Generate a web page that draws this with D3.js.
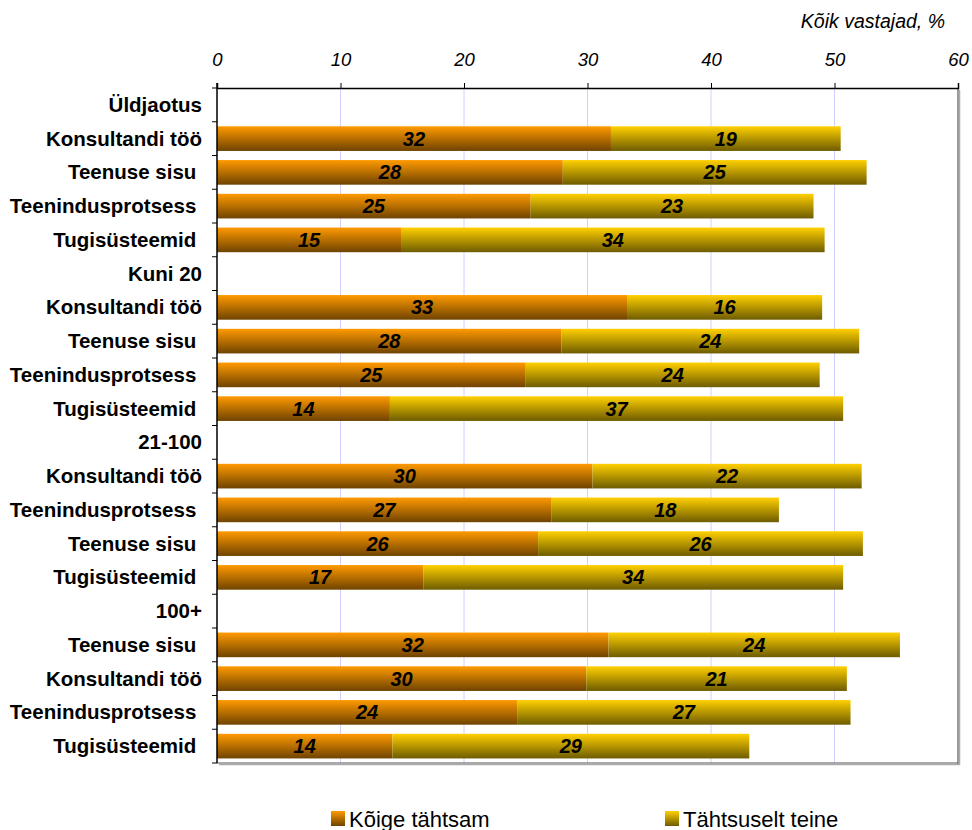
<!DOCTYPE html>
<html>
<head>
<meta charset="utf-8">
<script src="https://cdn.jsdelivr.net/npm/d3@7"></script>
<style>
  html, body { margin: 0; padding: 0; background: #fff; }
  svg text { font-family: "Liberation Sans", Arial, Helvetica, sans-serif; white-space: pre; }
</style>
</head>
<body>
<svg id="chart" width="972" height="830"></svg>
<script>
// Row labels (group headers and items), top to bottom
const categories = [
  "Üldjaotus", "Konsultandi töö", "Teenuse sisu ", "Teenindusprotsess ", "Tugisüsteemid ",
  "Kuni 20", "Konsultandi töö", "Teenuse sisu ", "Teenindusprotsess ", "Tugisüsteemid ",
  "21-100", "Konsultandi töö", "Teenindusprotsess ", "Teenuse sisu ", "Tugisüsteemid ",
  "100+", "Teenuse sisu ", "Konsultandi töö", "Teenindusprotsess ", "Tugisüsteemid "
];
// Share of respondents, %
const mostImportant = [
  null, 31.9, 28.0, 25.4, 14.9,
  null, 33.2, 27.9, 25.0, 14.0,
  null, 30.4, 27.1, 26.0, 16.7,
  null, 31.7, 29.9, 24.3, 14.2
];
const secondImportant = [
  null, 18.6, 24.6, 22.9, 34.3,
  null, 15.8, 24.1, 23.8, 36.7,
  null, 21.8, 18.4, 26.3, 34.0,
  null, 23.6, 21.1, 27.0, 28.9
];
const seriesNames = ["Kõige tähtsam", "Tähtsuselt teine"];
const xTicks = [0, 10, 20, 30, 40, 50, 60];
const axisTitle = "Kõik vastajad, %";

const svg = d3.select("#chart");
const plotLeft = 217, plotRight = 958, plotTop = 88, plotBottom = 763;

const x = d3.scaleLinear().domain([0, 60]).range([plotLeft, plotRight]);
const y = d3.scaleBand().domain(d3.range(categories.length)).range([plotTop, plotBottom]).paddingInner(0.27).paddingOuter(0.135);
const rowStep = (plotBottom - plotTop) / categories.length;

// Gradients for the two series
const defs = svg.append("defs");
function grad(id, c0, c1) {
  const g = defs.append("linearGradient").attr("id", id).attr("x1", 0).attr("y1", 0).attr("x2", 0).attr("y2", 1);
  g.append("stop").attr("offset", "0%").attr("stop-color", c0);
  g.append("stop").attr("offset", "100%").attr("stop-color", c1);
}
grad("gOrange", "#ff9a00", "#6f4300");
grad("gYellow", "#ffd000", "#6e5c00");
const fills = ["url(#gOrange)", "url(#gYellow)"];

// Vertical gridlines
svg.append("g").selectAll("line").data(xTicks.filter(t => t > 0 && t < 60)).join("line")
  .attr("x1", d => x(d)).attr("x2", d => x(d))
  .attr("y1", plotTop).attr("y2", plotBottom)
  .attr("stroke", "#d0d0ff").attr("stroke-width", 1);

// Stacked bars
const rows = categories.map((c, i) => ({ i, a: mostImportant[i], b: secondImportant[i] }))
  .filter(d => d.a != null);

const segs = [];
rows.forEach(r => {
  segs.push({ i: r.i, x0: 0, x1: r.a, v: r.a, s: 0 });
  segs.push({ i: r.i, x0: r.a, x1: r.a + r.b, v: r.b, s: 1 });
});

svg.append("g").selectAll("rect").data(segs).join("rect")
  .attr("x", d => x(d.x0))
  .attr("y", d => y(d.i))
  .attr("width", d => x(d.x1) - x(d.x0))
  .attr("height", y.bandwidth())
  .attr("fill", d => fills[d.s]);

svg.append("g").selectAll("text").data(segs).join("text")
  .attr("x", d => (x(d.x0) + x(d.x1)) / 2)
  .attr("y", d => y(d.i) + y.bandwidth() / 2 + 7)
  .attr("text-anchor", "middle")
  .attr("font-size", 20).attr("font-weight", "bold").attr("font-style", "italic")
  .attr("fill", "#000")
  .text(d => Math.round(d.v));

// Plot frame: right and bottom edges
svg.append("line").attr("x1", plotRight).attr("x2", plotRight).attr("y1", plotTop).attr("y2", plotBottom + 1)
  .attr("stroke", "#555").attr("stroke-width", 1.2);
svg.append("line").attr("x1", plotRight + 1.5).attr("x2", plotRight + 1.5).attr("y1", plotTop + 2).attr("y2", plotBottom + 2)
  .attr("stroke", "#aaa").attr("stroke-width", 1.5);
svg.append("line").attr("x1", plotLeft).attr("x2", plotRight).attr("y1", plotBottom).attr("y2", plotBottom)
  .attr("stroke", "#555").attr("stroke-width", 1.2);
svg.append("line").attr("x1", plotLeft + 2).attr("x2", plotRight + 2).attr("y1", plotBottom + 1.5).attr("y2", plotBottom + 1.5)
  .attr("stroke", "#aaa").attr("stroke-width", 1.5);

// Top axis
const xAxis = d3.axisTop(x).tickValues(xTicks).tickSize(5).tickPadding(17).tickFormat(d3.format("d"));
const gx = svg.append("g").attr("transform", `translate(0,${plotTop})`).call(xAxis);
gx.select(".domain").attr("stroke", "#000").attr("stroke-width", 1.5);
gx.selectAll(".tick line").attr("stroke", "#000");
gx.selectAll(".tick text")
  .attr("font-family", "Liberation Sans, Arial, sans-serif")
  .attr("font-size", 18.5).attr("font-style", "italic").attr("fill", "#000");

// Left axis: ticks on row boundaries
svg.append("line").attr("x1", plotLeft).attr("x2", plotLeft).attr("y1", plotTop - 5).attr("y2", plotBottom)
  .attr("stroke", "#000").attr("stroke-width", 1.5);
svg.append("g").selectAll("line").data(d3.range(categories.length + 1)).join("line")
  .attr("x1", plotLeft - 5).attr("x2", plotLeft)
  .attr("y1", d => plotTop + d * rowStep).attr("y2", d => plotTop + d * rowStep)
  .attr("stroke", "#000").attr("stroke-width", 1);

// Row labels
svg.append("g").selectAll("text").data(categories).join("text")
  .attr("x", 202)
  .attr("y", (d, i) => y(i) + y.bandwidth() / 2 + 7)
  .attr("text-anchor", "end")
  .attr("font-size", 20.5).attr("font-weight", "bold").attr("fill", "#000")
  .text(d => d);

// Axis title
svg.append("text").attr("x", 945).attr("y", 28).attr("text-anchor", "end")
  .attr("font-size", 19.5).attr("font-style", "italic").attr("fill", "#000")
  .text(axisTitle);

// Legend
const legendX = [331, 665];
const lg = svg.append("g").selectAll("g").data(seriesNames).join("g")
  .attr("transform", (d, i) => `translate(${legendX[i]},811)`);
lg.append("rect").attr("width", 14).attr("height", 15).attr("fill", (d, i) => fills[i]);
lg.append("text").attr("x", 18).attr("y", 15.5)
  .attr("font-size", 22).attr("fill", "#000").text(d => d);
</script>
</body>
</html>
